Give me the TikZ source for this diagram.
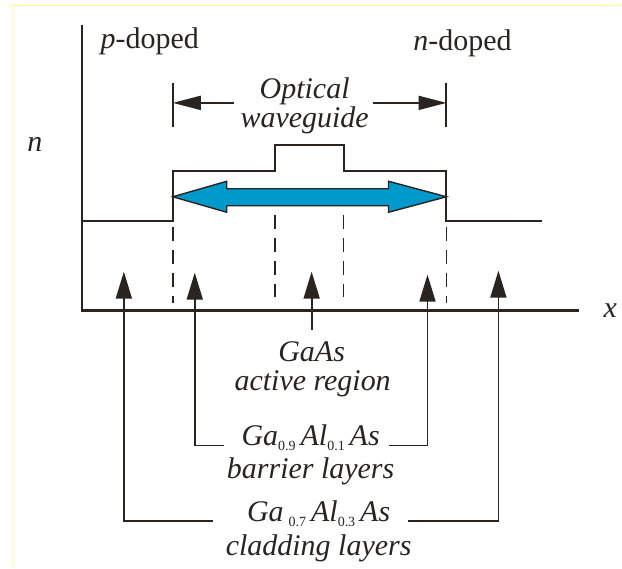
\documentclass[tikz,border=0pt]{standalone}
\usepackage{fontspec}
\setmainfont{Liberation Serif}
\usetikzlibrary{positioning,arrows.meta}

\definecolor{ink}{RGB}{42,36,32}
\definecolor{waveblue}{RGB}{0,153,204}
\definecolor{framey}{RGB}{255,255,150}

\newcommand{\lowsub}[1]{\raisebox{-5pt}{\fontsize{14}{14}\selectfont\upshape #1}}

\begin{document}
\begin{tikzpicture}[x=1pt,y=-1pt,color=ink,
    lbl/.style={font=\fontsize{30}{30}\selectfont\itshape, inner sep=0pt, anchor=base},
    axis/.style={line width=2.6pt},
    profile/.style={line width=2pt},
    guide/.style={line width=1.8pt, dash pattern=on 14pt off 9pt},
    pointer/.style={line width=1.8pt, -{Triangle[length=27pt,width=16pt]}},
    dimarrow/.style={line width=1.8pt, -{Triangle[length=28pt,width=14pt]}}]
      \fill[white] (0,0) rectangle (622,568);
      \draw[framey, line width=1.5pt] (12.5,568) -- (12.5,5.5) -- (622,5.5);
      \useasboundingbox (0,0) rectangle (622,568);
      % axes
      \draw[axis] (82,25) -- (82,311) -- (580,311);
      \node[lbl] (nlabel) at (35,152) {n};
      \node[lbl] (xlabel) at (611,318) {x};
      % refractive index profile
      \draw[profile] (82,221) -- (173,221) -- (173,171) -- (275,171) -- (275,145) -- (344,145)
        -- (344,171) -- (447,171) -- (447,221) -- (543,221);
      \draw[guide] (173,227) -- (173,303);
      \draw[guide] (275,215) -- (275,297);
      \draw[guide] (344,215) -- (344,297);
      \draw[guide] (447,227) -- (447,303);
      % guided mode
      \draw[fill=waveblue, line width=1.4pt] (173,197) -- (227,181.5) -- (227,189) -- (389,189)
        -- (389,181.5) -- (447,197) -- (389,212.5) -- (389,206) -- (227,206) -- (227,212.5) -- cycle;
      % doping and waveguide width
      \node[lbl, font=\fontsize{30}{30}\selectfont] (pdoped) at (150,49) {\textit{p}-doped};
      \node[lbl, font=\fontsize{30}{30}\selectfont] (ndoped) at (463,51) {\textit{n}-doped};
      \draw[profile] (173,83) -- (173,127);
      \draw[profile] (447,83) -- (447,127);
      \node[lbl] (optical) at (305,99) {Optical};
      \node[lbl] (waveguide) at (305,128) {waveguide};
      \coordinate (dimL) at (173,103);
      \coordinate (dimR) at (447,103);
      \coordinate (dimLtail) at (234,103);
      \coordinate (dimRtail) at (373,103);
      \draw[dimarrow] (dimLtail) -- (dimL);
      \draw[dimarrow] (dimRtail) -- (dimR);
      % layer labels
      \node[lbl] (gaas) at (312,362) {GaAs};
      \node[lbl] (active) at (313,391) {active region};
      \node[lbl] (barrierA) at (311,446) {Ga\lowsub{0.9}\,Al\lowsub{0.1}\,As};
      \node[lbl] (barrierB) at (311,479) {barrier layers};
      \node[lbl] (claddingA) at (319,522) {Ga\,\lowsub{0.7}\,Al\lowsub{0.3}\,As};
      \node[lbl] (claddingB) at (319,556) {cladding layers};
      \coordinate (tipCL) at (124,272);
      \coordinate (tipBL) at (195,273);
      \coordinate (tipA) at (312,272);
      \coordinate (tipBR) at (428,275);
      \coordinate (tipCR) at (499,271);
      \draw[pointer] ([yshift=12pt]gaas.north) -- (tipA);
      \draw[pointer] ([xshift=-17pt]barrierA.base west) -| (tipBL);
      \draw[pointer] ([xshift=9pt]barrierA.base east) -| (tipBR);
      \draw[pointer] ([xshift=-34pt]claddingA.base west) -| (tipCL);
      \draw[pointer] ([xshift=18pt]claddingA.base east) -| (tipCR);
\end{tikzpicture}
\end{document}
